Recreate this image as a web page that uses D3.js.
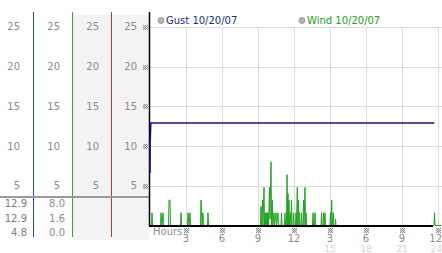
<!DOCTYPE html>
<html><head><meta charset="utf-8">
<script src="https://cdn.jsdelivr.net/npm/d3@7"></script>
<style>html,body{margin:0;padding:0;background:#fff;}svg{display:block;font-family:"DejaVu Sans",Verdana,sans-serif;}</style>
</head><body>
<script>
// ---- data ----
const yTicks = [5, 10, 15, 20, 25];
const xTicks = [3, 6, 9, 12, 15, 18, 21, 24];
const xLabels = ["3", "6", "9", "12", "3", "6", "9", "12"];
const xLabels2 = ["", "", "", "", "15", "18", "21", "24"];
const gustStats = ["12.9", "12.9", "4.8"];
const windStats = ["8.0", "1.6", "0.0"];
const seriesNames = ["Gust 10/20/07", "Wind 10/20/07"];
// minutes since midnight / values
const gustMinutes = [0, 0.5, 4, 1422];
const gustValues = [6.6, 10.4, 12.9, 12.9];
const windMinutes = [0, 7.5, 10, 12.5, 52.5, 55, 60, 65, 67.5, 92.5, 95, 100, 102.5, 152.5, 155, 157.5,
  187.5, 190, 195, 200, 202.5, 252.5, 255, 260, 265, 267.5, 287.5, 290, 292.5,
  552.5, 555, 557.5, 562.5, 565, 570, 572.5, 575, 577.5, 580, 582.5, 585, 587.5, 590, 592.5,
  597.5, 600, 605, 607.5, 611.5, 614, 620, 622.5, 630, 632.5, 640, 642.5, 655, 657.5, 660,
  672.5, 675, 677.5, 682.5, 685, 687.5, 690, 692.5, 695, 697.5, 702.5, 705, 707.5, 710,
  715, 717.5, 720, 727.5, 730, 732.5, 736.5, 739, 742.5, 745, 747.5, 750, 755, 757.5, 760,
  765, 767.5, 770, 775, 777.5, 780, 782.5, 812.5, 815, 817.5, 822.5, 825, 827.5,
  855, 857.5, 860, 865, 867.5, 870, 875, 877.5, 900, 902.5, 905, 908.5, 911, 916.5, 919,
  925, 927.5, 930, 1420, 1422.5, 1425, 1455];
const windValues = [0, 0, 1.6, 0, 0, 1.6, 0, 1.6, 0, 0, 3.2, 3.2, 0, 0, 1.6, 0,
  0, 1.6, 0, 1.6, 0, 0, 3.2, 0, 1.6, 0, 0, 1.6, 0,
  0, 2.4, 0, 3.2, 0, 4.8, 0, 1.6, 0, 1.6, 0, 1.6, 0, 1.6, 0,
  4.8, 0.8, 8.0, 0, 3.2, 0, 1.6, 0, 1.6, 0, 1.6, 0, 0, 1.6, 0,
  0, 1.6, 0, 0, 6.4, 0, 4.0, 0, 3.2, 0, 1.6, 0, 3.2, 0,
  0, 1.6, 0, 0, 1.6, 0, 4.8, 0, 3.2, 0, 1.6, 0, 0, 1.6, 0,
  0, 3.2, 0, 4.8, 0, 1.6, 0, 0, 1.6, 0, 0, 1.6, 0,
  0, 1.6, 0, 0, 1.6, 0, 1.6, 0, 0, 1.6, 0, 3.2, 0, 1.6, 0,
  0, 0.8, 0, 0, 1.6, 0, 0];

// ---- layout ----
const W = 442, H = 253;
const x = d3.scaleLinear().domain([0, 24]).range([150, 438]);
const y = d3.scaleLinear().domain([0, 25]).range([225.5, 26.8]);

const svg = d3.select("body").append("svg").attr("width", W).attr("height", H);
svg.append("rect").attr("width", W).attr("height", H).attr("fill", "#fff");

const defs = svg.append("defs");
const pat = defs.append("pattern").attr("id", "chk").attr("width", 2).attr("height", 2)
  .attr("patternUnits", "userSpaceOnUse");
pat.append("rect").attr("width", 2).attr("height", 2).attr("fill", "#e4e4e4");
pat.append("rect").attr("width", 1).attr("height", 1).attr("fill", "#8a8a8a");
pat.append("rect").attr("x", 1).attr("y", 1).attr("width", 1).attr("height", 1).attr("fill", "#8a8a8a");

// left panel backgrounds
svg.append("rect").attr("x", 73).attr("y", 15).attr("width", 38).attr("height", 225).attr("fill", "#f3f3f3");
svg.append("rect").attr("x", 112).attr("y", 15).attr("width", 37).attr("height", 225).attr("fill", "#f3f3f3");

// column separator lines
const seps = [{x: 33, c: "#2a4cc0"}, {x: 72, c: "#2fae2f"}, {x: 111, c: "#c83030"}];
svg.selectAll(".sep").data(seps).enter().append("rect")
  .attr("x", d => d.x).attr("y", 12).attr("width", 1).attr("height", 225)
  .attr("fill", d => d.c);

// gray horizontal line in left panel
svg.append("rect").attr("x", 0).attr("y", 196).attr("width", 149).attr("height", 2).attr("fill", "#9a9a9a");

// left labels
const colRight = [20, 60, 99, 137];
colRight.forEach(cx => {
  svg.selectAll(null).data(yTicks).enter().append("text")
    .attr("x", cx).attr("y", d => y(d)).attr("dy", "0.35em")
    .attr("text-anchor", "end").attr("font-size", 10).attr("fill", "#8c8c8c").text(d => d);
});
const statY = [203.5, 218, 232.5];
svg.selectAll(null).data(gustStats).enter().append("text")
  .attr("x", 27).attr("y", (d, i) => statY[i]).attr("dy", "0.35em")
  .attr("text-anchor", "end").attr("font-size", 10).attr("fill", "#7c7c7c").text(d => d);
svg.selectAll(null).data(windStats).enter().append("text")
  .attr("x", 65).attr("y", (d, i) => statY[i]).attr("dy", "0.35em")
  .attr("text-anchor", "end").attr("font-size", 10).attr("fill", "#8c8c8c").text(d => d);

// grid
svg.selectAll(".hg").data(yTicks).enter().append("line")
  .attr("x1", 149).attr("x2", W).attr("y1", d => Math.round(y(d)) + 0.5).attr("y2", d => Math.round(y(d)) + 0.5)
  .attr("stroke", "#dcdcdc");
svg.selectAll(".vg").data(xTicks).enter().append("line")
  .attr("x1", d => Math.round(x(d)) + 0.5).attr("x2", d => Math.round(x(d)) + 0.5)
  .attr("y1", y(25)).attr("y2", 226).attr("stroke", "#dcdcdc");

// tick marks (checker squares)
svg.selectAll(".ym").data(yTicks).enter().append("rect")
  .attr("x", 143).attr("y", d => Math.round(y(d)) - 2).attr("width", 5).attr("height", 5).attr("fill", "url(#chk)");
svg.selectAll(".xm").data(xTicks).enter().append("rect")
  .attr("x", d => Math.round(x(d)) - 2).attr("y", 228).attr("width", 5).attr("height", 5).attr("fill", "url(#chk)");

// x labels
const lastX = xTicks[xTicks.length - 1];
svg.selectAll(".xl").data(xTicks).enter().append("text")
  .attr("x", d => d === lastX ? W : x(d)).attr("y", 242)
  .attr("text-anchor", d => d === lastX ? "end" : "middle")
  .attr("font-size", 10).attr("fill", "#8c8c8c").text((d, i) => xLabels[i]);
svg.selectAll(".xl2").data(xTicks).enter().append("text")
  .attr("x", d => d === lastX ? W : x(d)).attr("y", 251.5)
  .attr("text-anchor", d => d === lastX ? "end" : "middle")
  .attr("font-size", 9).attr("fill", "#d4d4d4").text((d, i) => xLabels2[i]);
svg.append("text").attr("x", 153).attr("y", 235).attr("font-size", 10).attr("fill", "#8c8c8c").text("Hours");

// series lines
const line = d3.line().x(d => x(d[0] / 60)).y(d => y(d[1]));
const windPts = windMinutes.map((m, i) => [m, windValues[i]]);
const gustPts = gustMinutes.map((m, i) => [m, gustValues[i]]);
svg.append("path").attr("d", line(windPts)).attr("fill", "none").attr("stroke", "#22a022").attr("stroke-width", 1);

// baseline + y axis
svg.append("line").attr("x1", 149).attr("x2", 433).attr("y1", 226).attr("y2", 226).attr("stroke", "#000").attr("stroke-width", 2);
svg.append("line").attr("x1", 149.5).attr("x2", 149.5).attr("y1", 12).attr("y2", 226).attr("stroke", "#000").attr("stroke-width", 1.5);

svg.append("path").attr("d", line(gustPts)).attr("fill", "none").attr("stroke", "#15157a").attr("stroke-width", 1.6);

// legend
const legX = [161, 302];
const legC = ["#1a2a8c", "#22a022"];
seriesNames.forEach((n, i) => {
  svg.append("circle").attr("cx", legX[i]).attr("cy", 20.5).attr("r", 3).attr("fill", "#b4b4b4").attr("stroke", "#909090").attr("stroke-width", 0.8);
  svg.append("text").attr("x", legX[i] + 5).attr("y", 24).attr("font-size", 10).attr("fill", legC[i]).text(n);
});
</script>
</body></html>
